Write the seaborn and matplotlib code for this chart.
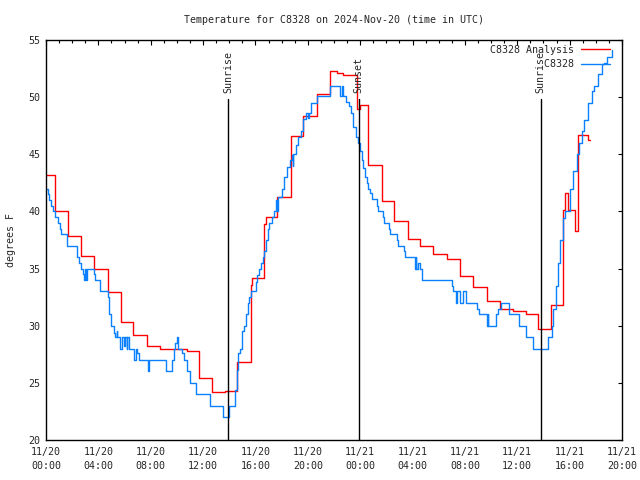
import numpy as np
import pandas as pd
import matplotlib
matplotlib.use('Agg')
import matplotlib.pyplot as plt
import seaborn as sns

# hours since 11/20 00:00 UTC, values in degrees F
analysis_hours = [0.00, 0.69, 1.66, 2.65, 3.67, 4.71, 5.70, 6.67, 7.69, 8.70, 9.70, 10.75,
                  11.66, 12.68, 13.67, 14.57, 15.64, 15.75, 16.65, 16.80, 17.62, 18.69, 19.66,
                  20.68, 21.70, 22.20, 22.70, 23.78, 24.00, 24.60, 25.64, 26.60, 27.65, 28.60,
                  29.60, 30.60, 31.60, 32.60, 33.66, 34.70, 35.70, 36.70, 37.60, 38.60, 39.47,
                  39.65, 39.85, 40.40, 40.65, 41.40, 41.56]
analysis_temp = [43.2, 40.0, 37.85, 36.07, 34.93, 32.95, 30.35, 29.16, 28.22, 28.0, 27.95, 27.76,
                 25.4, 24.17, 24.25, 26.8, 33.6, 34.2, 38.9, 39.5, 41.3, 46.6, 48.35,
                 50.27, 52.3, 52.1, 51.9, 49.0, 49.3, 44.1, 40.9, 39.16, 37.6, 36.94,
                 36.25, 35.86, 34.32, 33.36, 32.16, 31.43, 31.26, 31.0, 29.68, 31.8, 40.1,
                 41.6, 40.1, 38.26, 46.7, 46.25, 46.25]

station_hours = [0.00, 0.12, 0.25, 0.40, 0.55, 0.70, 0.90, 1.07, 1.12, 1.58, 2.34, 2.50, 2.65,
                 2.80, 2.90, 3.00, 3.07, 3.15, 3.67, 3.77, 4.13, 4.71, 4.84, 4.97, 5.20, 5.30,
                 5.40, 5.45, 5.65, 5.80, 5.95, 6.02, 6.15, 6.22, 6.37, 6.75, 6.87, 6.97, 7.12,
                 7.80, 7.85, 9.17, 9.65, 9.75, 9.85, 9.98, 10.06, 10.37, 10.57, 10.75, 11.00,
                 11.46, 12.53, 13.50, 14.00, 14.44, 14.57, 14.69, 14.82, 15.00, 15.13, 15.25,
                 15.41, 15.51, 15.66, 16.02, 16.14, 16.30, 16.42, 16.55, 16.68, 16.78, 16.93,
                 17.06, 17.24, 17.44, 17.57, 17.65, 17.72, 18.00, 18.18, 18.39, 18.64, 18.77,
                 18.85, 18.90, 19.10, 19.28, 19.45, 19.66, 19.84, 20.04, 20.12, 20.22, 20.68,
                 21.70, 22.46, 22.58, 22.71, 22.92, 23.12, 23.30, 23.48, 23.68, 23.86, 23.99,
                 24.12, 24.24, 24.37, 24.50, 24.62, 24.75, 24.88, 25.26, 25.34, 25.72, 25.82,
                 26.20, 26.28, 26.79, 26.87, 27.37, 27.45, 28.19, 28.25, 28.30, 28.40, 28.57,
                 28.70, 31.00, 31.12, 31.32, 31.40, 31.63, 31.88, 32.09, 32.90, 33.08, 33.67,
                 33.75, 33.80, 34.35, 34.50, 34.73, 35.37, 36.13, 36.67, 37.23, 38.37, 38.63,
                 38.76, 38.96, 39.14, 39.27, 39.47, 39.65, 40.03, 40.28, 40.54, 40.74, 40.92,
                 41.12, 41.43, 41.69, 41.85, 42.20, 42.45, 42.63, 42.88, 43.22]
station_temp = [42.0, 41.5, 41.0, 40.5, 40.0, 39.5, 39.0, 38.5, 38.0, 37.0, 36.0, 35.5, 35.0,
                34.5, 34.0, 35.0, 34.0, 35.0, 34.5, 34.0, 33.0, 32.5, 31.0, 30.0, 29.4, 29.0,
                29.5, 29.0, 28.0, 29.0, 28.2, 29.0, 28.0, 29.0, 28.0, 27.0, 28.0, 27.6, 27.0,
                26.0, 27.0, 26.0, 27.0, 28.0, 28.5, 29.0, 28.0, 27.6, 27.0, 26.0, 25.0,
                24.0, 23.0, 22.0, 23.0, 24.4, 26.1, 27.6, 28.0, 29.5, 30.0, 31.0,
                32.0, 32.5, 33.0, 33.8, 34.4, 35.0, 35.5, 36.0, 36.5, 37.5, 38.5,
                39.0, 39.5, 40.0, 41.0, 40.0, 41.3, 42.0, 43.0, 43.9, 44.5, 44.9,
                44.0, 45.0, 45.8, 46.5, 47.0, 48.1, 48.6, 48.2, 48.6, 49.5, 50.1,
                51.0, 50.1, 51.0, 50.1, 49.6, 49.2, 48.6, 47.4, 46.5, 46.0, 45.3,
                44.5, 43.8, 43.0, 42.5, 42.0, 41.6, 41.1, 40.5, 40.0, 39.5, 39.0,
                38.5, 38.0, 37.5, 37.0, 36.5, 36.0, 35.0, 36.0, 35.0, 35.5, 35.0,
                34.0, 33.5, 33.0, 32.0, 33.0, 32.0, 33.0, 32.0, 31.5, 31.0, 30.0,
                31.0, 30.0, 31.0, 31.5, 32.0, 31.0, 30.0, 29.0, 28.0, 29.0, 30.0,
                31.5, 33.5, 35.5, 37.5, 39.4, 40.0, 42.0, 43.5, 45.0, 46.0, 47.0,
                48.0, 49.5, 50.5, 51.0, 52.0, 52.9, 53.0, 53.5, 54.1]

event_names = ['Sunrise', 'Sunset', 'Sunrise']
event_hours = [13.9, 23.9, 37.8]

tick_hours = list(range(0, 45, 4))
tick_labels = ['11/20\n00:00', '11/20\n04:00', '11/20\n08:00', '11/20\n12:00',
               '11/20\n16:00', '11/20\n20:00', '11/21\n00:00', '11/21\n04:00',
               '11/21\n08:00', '11/21\n12:00', '11/21\n16:00', '11/21\n20:00']

analysis = pd.DataFrame({'hours': analysis_hours, 'temp': analysis_temp})
station = pd.DataFrame({'hours': station_hours, 'temp': station_temp})

sns.set_style('white')
plt.rcParams['font.family'] = ['DejaVu Sans Mono', 'DejaVu Sans']
fs = 7.2

fig = plt.figure(figsize=(6.4, 4.8), dpi=100)
ax = fig.add_axes([46 / 640, 40 / 480, 576 / 640, 400 / 480])

sns.lineplot(data=analysis, x='hours', y='temp', ax=ax, color='#ff0000', lw=1.0,
             drawstyle='steps-post', estimator=None, sort=False, label='C8328 Analysis')
sns.lineplot(data=station, x='hours', y='temp', ax=ax, color='#0a80ff', lw=1.0,
             drawstyle='steps-post', estimator=None, sort=False,
             label='C8328'.rjust(len('C8328 Analysis')))

for name, h in zip(event_names, event_hours):
    ax.axvline(h, ymin=0, ymax=(49.8 - 20) / 35, color='black', lw=1.0)
    ax.text(h, 50.4, name, rotation=90, ha='center', va='bottom', fontsize=fs)

ax.set_xlim(0, 44)
ax.set_ylim(20, 55)
ax.set_xticks(tick_hours)
ax.set_xticklabels(tick_labels, fontsize=fs)
for lbl in ax.get_xticklabels():
    lbl.set_linespacing(1.5)
ax.set_xticks(range(0, 45), minor=True)
ax.set_yticks(range(20, 56, 5))
ax.set_yticklabels([str(v) for v in range(20, 56, 5)], fontsize=fs)
ax.tick_params(axis='both', which='both', direction='in', top=True, right=True,
               color='black', width=0.8)
ax.tick_params(axis='x', which='major', length=3.6, pad=5)
ax.tick_params(axis='x', which='minor', length=1.8)
ax.tick_params(axis='y', which='major', length=3.1, pad=4)
for s in ax.spines.values():
    s.set_color('black')
    s.set_linewidth(1.0)

ax.set_xlabel('')
ax.set_ylabel('degrees F', fontsize=fs, labelpad=9)
ax.set_title('Temperature for C8328 on 2024-Nov-20 (time in UTC)', fontsize=fs, pad=12)

ax.legend(loc='upper right', bbox_to_anchor=(1 - 12 / 576, 1 - 5 / 400), borderaxespad=0,
          borderpad=0, frameon=False, markerfirst=False, fontsize=fs, handlelength=2.9,
          handletextpad=0.7, labelspacing=0.45)

plt.savefig('out.png', dpi=100)
